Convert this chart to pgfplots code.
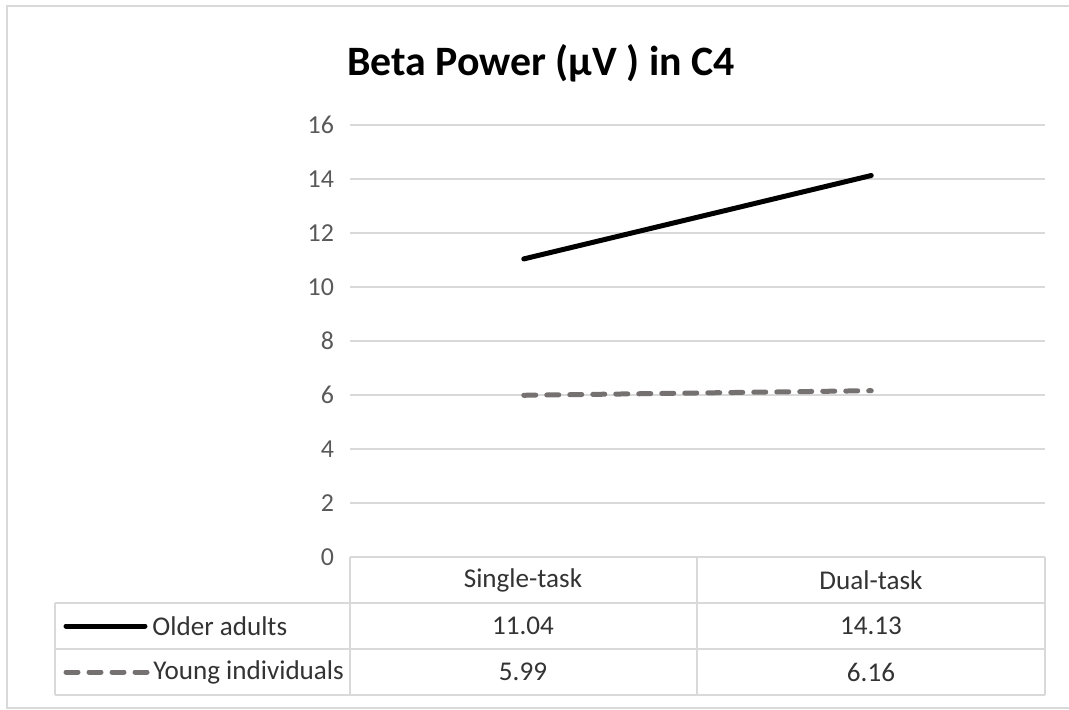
\documentclass[border=0pt]{standalone}
\usepackage{pgfplots}
\pgfplotsset{compat=1.18}
\usepackage{fontspec}
\setmainfont{Carlito}
\definecolor{gridc}{HTML}{D9D9D9}
\definecolor{tickc}{HTML}{595959}
\definecolor{txt}{HTML}{333333}
\definecolor{youngc}{HTML}{767171}
\begin{document}
\begin{tikzpicture}
\begin{scope}[x=0.5bp,y=-0.5bp]
\useasboundingbox (0,0) rectangle (1069,710);
\draw[gridc, line width=1.2bp] (1090,6) -- (7,6) -- (7,708) -- (1090,708);
\node[font=\fontsize{21}{24}\selectfont\bfseries, anchor=center, inner sep=0] at (541,63) {Beta Power (µV\ ) in C4};
\end{scope}
\begin{axis}[
  at={(175bp,-278.5bp)}, anchor=south west,
  scale only axis, width=347.5bp, height=216bp,
  xmin=-0.5, xmax=1.5, ymin=0, ymax=16,
  ytick={0,2,...,16}, xtick=\empty,
  ymajorgrids, grid style={gridc, line width=1bp},
  axis line style={draw=none}, major tick length=0pt,
  yticklabel style={tickc, font=\fontsize{13}{15}\selectfont, anchor=east, xshift=-4.5bp},
  /pgf/number format/assume math mode=true,
  clip=false,
]
\addplot[black, line width=2.5bp, line cap=round] coordinates {(0,11.04) (1,14.13)};
\addplot[youngc, line width=2.5bp, line cap=round, dash pattern=on 6bp off 5.5bp] coordinates {(0,5.99) (1,6.16)};
\end{axis}
\begin{scope}[x=0.5bp,y=-0.5bp]
\draw[gridc, line width=1bp]
  (55,603) -- (1045,603)
  (55,649) -- (1045,649)
  (55,695) -- (1045,695)
  (55,603) -- (55,695)
  (350,557) -- (350,695)
  (697,557) -- (697,695)
  (1045,557) -- (1045,695);
\draw[black, line width=2.5bp, line cap=round] (66,626) -- (145,626);
\draw[youngc, line width=2.5bp, line cap=round, dash pattern=on 6bp off 5.5bp] (66,672) -- (150,672);
\begin{scope}[every node/.style={txt, font=\fontsize{13.6}{15}\selectfont, inner sep=0}]
\node[anchor=west] at (152,626) {Older adults};
\node[anchor=west] at (153,672) {Young individuals};
\node at (523,580) {Single-task};
\node at (871,580) {Dual-task};
\node at (523,626) {11.04};
\node at (871,626) {14.13};
\node at (523,672) {5.99};
\node at (871,672) {6.16};
\end{scope}
\end{scope}
\end{tikzpicture}
\end{document}
